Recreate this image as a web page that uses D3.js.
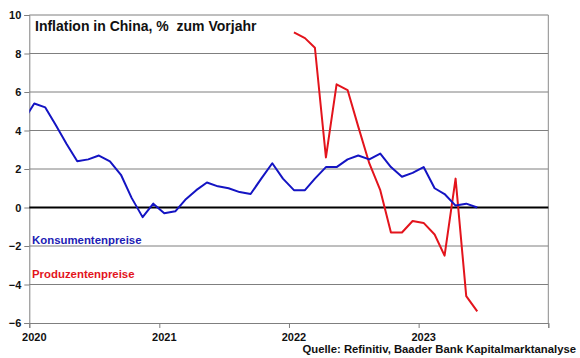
<!DOCTYPE html>
<html>
<head>
<meta charset="utf-8">
<script src="https://cdn.jsdelivr.net/npm/d3@7"></script>
<style>
  html, body { margin: 0; padding: 0; background: #fff; }
  svg { display: block; }
  text { font-family: "Liberation Sans", Arial, sans-serif; font-weight: bold; }
</style>
</head>
<body>
<svg id="chart" width="580" height="358"></svg>
<script>
// ---- data ----
const cpiMonths = ["2019-12",
  "2020-01","2020-02","2020-03","2020-04","2020-05","2020-06","2020-07","2020-08","2020-09","2020-10","2020-11","2020-12",
  "2021-01","2021-02","2021-03","2021-04","2021-05","2021-06","2021-07","2021-08","2021-09","2021-10","2021-11","2021-12",
  "2022-01","2022-02","2022-03","2022-04","2022-05","2022-06","2022-07","2022-08","2022-09","2022-10","2022-11","2022-12",
  "2023-01","2023-02","2023-03","2023-04","2023-05","2023-06"];
const cpiValues = [4.5,
  5.4,5.2,4.3,3.3,2.4,2.5,2.7,2.4,1.7,0.5,-0.5,0.2,
  -0.3,-0.2,0.4,0.9,1.3,1.1,1.0,0.8,0.7,1.5,2.3,1.5,
  0.9,0.9,1.5,2.1,2.1,2.5,2.7,2.5,2.8,2.1,1.6,1.8,
  2.1,1.0,0.7,0.1,0.2,0.0];
const ppiMonths = ["2022-01","2022-02","2022-03","2022-04","2022-05","2022-06","2022-07","2022-08","2022-09","2022-10","2022-11","2022-12",
  "2023-01","2023-02","2023-03","2023-04","2023-05","2023-06"];
const ppiValues = [9.1,8.8,8.3,2.6,6.4,6.1,4.2,2.3,0.9,-1.3,-1.3,-0.7,
  -0.8,-1.4,-2.5,1.5,-4.6,-5.4];
const yTicks = [-6,-4,-2,0,2,4,6,8,10];
const xTickYears = ["2020","2021","2022","2023","2024"];
const xTickLabels = ["2020","2021","2022","2023"];
const title = "Inflation in China, %  zum Vorjahr";
const seriesNames = ["Konsumentenpreise","Produzentenpreise"];
const source = "Quelle: Refinitiv, Baader Bank Kapitalmarktanalyse";

// ---- layout ----
const svg = d3.select("#chart");
const pL = 29.3, pR = 548.3, pT = 15, pB = 323;
const parseM = d3.timeParse("%Y-%m");
const parseY = d3.timeParse("%Y");
const mid = s => { const d = parseM(s); return new Date(d.getFullYear(), d.getMonth(), 15); };

const x = d3.scaleTime().domain([parseY("2020"), parseY("2024")]).range([pL, pR]);
const y = d3.scaleLinear().domain([-6, 10]).range([pB, pT]);

// grid lines
svg.append("g").selectAll("line").data(yTicks.filter(v => v !== 0 && v !== -6)).join("line")
  .attr("x1", pL).attr("x2", pR)
  .attr("y1", d => y(d)).attr("y2", d => y(d))
  .attr("stroke", "#7f7f7f").attr("stroke-width", 1);

// right border
svg.append("line").attr("x1", pR).attr("x2", pR).attr("y1", pT).attr("y2", pB)
  .attr("stroke", "#8a8a8a").attr("stroke-width", 1);

// y axis
const yAxis = d3.axisLeft(y).tickValues(yTicks).tickSize(5).tickPadding(3).tickFormat(d3.format("d"));
const gy = svg.append("g").attr("transform", `translate(${pL},0)`).call(yAxis);
gy.select(".domain").attr("stroke", "#7f7f7f");
gy.selectAll(".tick line").attr("stroke", "#7f7f7f");
gy.selectAll("text").attr("font-size", 11).attr("fill", "#111")
  .style("font-family", "'Liberation Sans', Arial, sans-serif").style("font-weight", "bold");

// x axis
const xAxis = d3.axisBottom(x).tickValues(xTickYears.map(parseY)).tickSize(5).tickFormat("");
const gx = svg.append("g").attr("transform", `translate(0,${pB})`).call(xAxis);
gx.select(".domain").attr("stroke", "#7f7f7f");
gx.selectAll(".tick line").attr("stroke", "#7f7f7f");
svg.append("g").selectAll("text").data(xTickLabels).join("text")
  .attr("x", d => x(parseY(d)) + 5).attr("y", pB + 18)
  .attr("text-anchor", "middle").attr("font-size", 11).attr("fill", "#111")
  .text(d => d);

// zero line
svg.append("line").attr("x1", pL).attr("x2", pR).attr("y1", y(0)).attr("y2", y(0))
  .attr("stroke", "#000").attr("stroke-width", 2);

// clip
svg.append("clipPath").attr("id", "clip").append("rect")
  .attr("x", pL).attr("y", pT - 5).attr("width", pR - pL).attr("height", pB - pT + 10);

const line = d3.line().x(d => x(d[0])).y(d => y(d[1]));
const cpi = cpiMonths.map((m, i) => [mid(m), cpiValues[i]]);
const ppi = ppiMonths.map((m, i) => [mid(m), ppiValues[i]]);

svg.append("path").attr("clip-path", "url(#clip)").attr("d", line(ppi))
  .attr("fill", "none").attr("stroke", "#e3141c").attr("stroke-width", 2).attr("stroke-linejoin", "round");
svg.append("path").attr("clip-path", "url(#clip)").attr("d", line(cpi))
  .attr("fill", "none").attr("stroke", "#1414c3").attr("stroke-width", 2).attr("stroke-linejoin", "round");

// title
svg.append("text").attr("x", 35).attr("y", 30.5).attr("font-size", 14).attr("fill", "#111")
  .style("white-space", "pre").text(title);

// series labels
svg.append("text").attr("x", 32).attr("y", 243.5).attr("font-size", 11.4).attr("fill", "#1c1cb4").text(seriesNames[0]);
svg.append("text").attr("x", 32).attr("y", 277.5).attr("font-size", 11.4).attr("fill", "#e3141c").text(seriesNames[1]);

// source
svg.append("text").attr("x", 576).attr("y", 352.5).attr("text-anchor", "end").attr("font-size", 11.3)
  .attr("fill", "#111").text(source);
</script>
</body>
</html>
